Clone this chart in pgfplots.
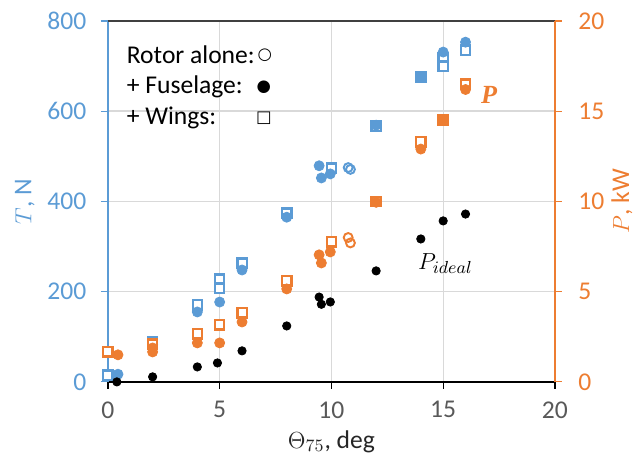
\documentclass[border=0pt]{standalone}
\usepackage{pgfplots}
\pgfplotsset{compat=1.18}
\usepackage{fontspec}
\setmainfont{Carlito}
\newfontfamily\symfont{DejaVu Sans}
\newfontfamily\seriffont{Liberation Serif}
\definecolor{cblue}{HTML}{5B9BD5}
\definecolor{corange}{HTML}{ED7D31}
\definecolor{tgrey}{HTML}{595959}
\definecolor{cgrid}{HTML}{D9D9D9}
\begin{document}
\begin{tikzpicture}
\pgfplotsset{
  base/.style={
    at={(0,0)}, anchor=south west,
    scale only axis, width=230.7pt, height=186.3pt,
    xmin=0, xmax=20, clip=false,
    /pgf/number format/assume math mode=true,
    tick label style={font=\fontsize{13.2}{15}\selectfont},
    tick align=outside, major tick length=3.6pt,
  },
  sq/.style={only marks, mark=square*, mark size=2.4pt, mark options={line width=1.2pt, fill=white}},
  fc/.style={only marks, mark=*, mark size=2.6pt},
  oc/.style={only marks, mark=o, mark size=2.3pt, mark options={line width=1pt}},
}
% Left axis: thrust
\begin{axis}[base,
  ymin=0, ymax=800,
  axis x line*=bottom, axis y line*=left,
  x axis line style={black, line width=0.9pt, -},
  y axis line style={cblue, line width=0.6pt, -},
  xtick={0,5,10,15,20}, ytick={0,200,400,600,800},
  xmajorgrids, ymajorgrids,
  grid style={cgrid, line width=0.7pt},
  xtick style={black, line width=0.6pt},
  ytick style={cblue, line width=0.6pt},
  xticklabel style={tgrey, yshift=-3pt},
  yticklabel style={cblue, xshift=-4pt},
  xlabel={$\Theta_{75}$, deg},
  ylabel={$T$, N},
  every axis x label/.style={at={(axis description cs:0.5,-0.165)}, anchor=center, black!85, font=\fontsize{13.2}{15}\selectfont},
  every axis y label/.style={at={(axis description cs:-0.186,0.5)}, anchor=center, rotate=90, cblue, font=\fontsize{13.2}{15}\selectfont},
]
\draw[black!75, line width=0.9pt] (rel axis cs:0,1) -- (rel axis cs:1,1);
% Wings (squares)
\addplot[sq, cblue] coordinates {
 (0,15) (2,88) (4,171) (5,228) (5,208) (6,263) (8,374) (10,474)
 (12,567) (14,676) (15,718) (15,700) (16,735)};
% Fuselage (filled circles)
\addplot[fc, cblue] coordinates {
 (0.45,17) (2,82) (4,155) (5,177) (6,248) (8,365) (9.45,479) (9.55,452)
 (9.95,461) (12,569) (14,676) (15,731) (16,753)};
% Rotor alone (open circles)
\addplot[oc, cblue] coordinates {(10.75,475) (10.85,471)};
% legend text
\node[anchor=west, font=\fontsize{13.2}{15}\selectfont] at (rel axis cs:0.027,0.906) {Rotor alone:};
\node[anchor=west, font=\fontsize{13.2}{15}\selectfont] at (rel axis cs:0.027,0.817) {+ Fuselage:};
\node[anchor=west, font=\fontsize{13.2}{15}\selectfont] at (rel axis cs:0.027,0.731) {+ Wings:};
\node[font=\symfont\fontsize{8.5}{10}\selectfont] at (rel axis cs:0.351,0.906) {○};
\node[font=\symfont\fontsize{8.5}{10}\selectfont] at (rel axis cs:0.349,0.817) {●};
\node[font=\symfont\fontsize{8.5}{10}\selectfont] at (rel axis cs:0.349,0.731) {□};
\end{axis}
% Right axis: power
\begin{axis}[base,
  ymin=0, ymax=20,
  axis x line=none, axis y line*=right,
  y axis line style={corange, line width=0.6pt, -},
  ytick={0,5,10,15,20},
  ytick style={corange, line width=0.6pt},
  yticklabel style={corange},
  yticklabel shift=5pt,
  ylabel={$P$, kW},
  every axis y label/.style={at={(axis description cs:1.15,0.5)}, anchor=center, rotate=90, corange, font=\fontsize{13.2}{15}\selectfont},
]
\addplot[sq, corange] coordinates {
 (0,1.66) (2,2.1) (4,2.66) (5,3.16) (6,3.82) (8,5.6) (10,7.76)
 (12,10.0) (14,13.3) (15,14.5) (16,16.5)};
\addplot[fc, corange] coordinates {
 (0.45,1.5) (2,1.88) (2,1.66) (4,2.16) (5,2.16) (6,3.32) (8,5.15)
 (9.45,7.04) (9.55,6.59) (9.95,7.2) (12,9.95) (14,12.9) (15,14.5) (16,16.2)};
\addplot[oc, corange] coordinates {(10.75,8.0) (10.85,7.7)};
% ideal power
\addplot[only marks, mark=*, mark size=2.15pt, black] coordinates {
 (0.4,0) (2,0.28) (4,0.83) (4.9,1.05) (6,1.72) (8,3.1) (9.45,4.7) (9.55,4.3)
 (9.95,4.43) (12,6.15) (14,7.92) (15,8.92) (16,9.3)};
\node[corange, font=\seriffont\bfseries\itshape\fontsize{13.5}{15}\selectfont] at (axis cs:17.05,15.9) {P};
\node[black, font=\fontsize{12.8}{15}\selectfont] at (axis cs:15.1,6.55) {$P_{ideal}$};
\end{axis}
\path (-55.7pt,-39.7pt) rectangle (274.6pt,197.1pt);
\end{tikzpicture}
\end{document}
